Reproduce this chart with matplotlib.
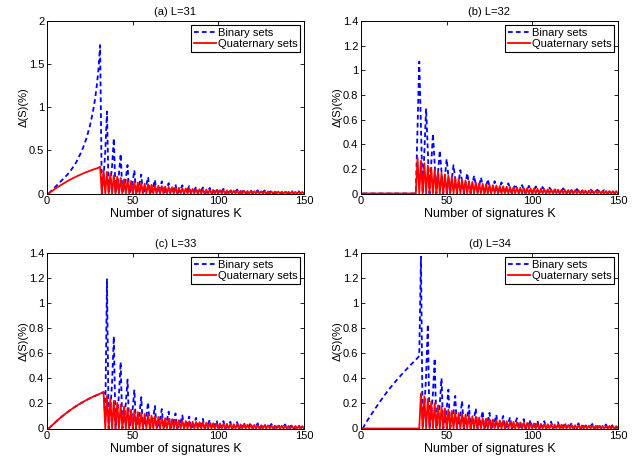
import numpy as np
import matplotlib
matplotlib.use("Agg")
import matplotlib.pyplot as plt

plt.rcParams['font.family'] = ['Liberation Sans', 'DejaVu Sans']
plt.rcParams['font.size'] = 8

K = np.arange(1, 151)
titles = ["(a) L=31", "(b) L=32", "(c) L=33", "(d) L=34"]
series_labels = ["Binary sets", "Quaternary sets"]
ylims = [2.0, 1.4, 1.4, 1.4]
yticks_a = [0, 0.5, 1, 1.5, 2]
yticks_bcd = [0, 0.2, 0.4, 0.6, 0.8, 1, 1.2, 1.4]
ytick_labels_a = ["0", "0.5", "1", "1.5", "2"]
ytick_labels_bcd = ["0", "0.2", "0.4", "0.6", "0.8", "1", "1.2", "1.4"]
xticks = [0, 50, 100, 150]

# ---- (a) L=31 ----
binary_a = [
    0, 0.02, 0.04, 0.06, 0.08, 0.10, 0.12, 0.14, 0.16, 0.18,
    0.20, 0.22, 0.25, 0.27, 0.30, 0.33, 0.36, 0.40, 0.44, 0.48,
    0.53, 0.58, 0.64, 0.71, 0.78, 0.87, 0.97, 1.09, 1.24, 1.43,
    1.72, 0, 0.19, 0.48, 0.95, 0, 0.13, 0.32, 0.64, 0,
    0.09, 0.23, 0.46, 0, 0.07, 0.17, 0.33, 0, 0.05, 0.14,
    0.27, 0, 0.04, 0.11, 0.22, 0, 0.04, 0.10, 0.19, 0,
    0.03, 0.08, 0.16, 0, 0.03, 0.07, 0.14, 0, 0.02, 0.06,
    0.12, 0, 0.02, 0.05, 0.105, 0, 0.02, 0.05, 0.095, 0,
    0.02, 0.04, 0.085, 0, 0.015, 0.04, 0.077, 0, 0.014, 0.035,
    0.07, 0, 0.013, 0.032, 0.064, 0, 0.012, 0.029, 0.058, 0,
    0.011, 0.027, 0.054, 0, 0.01, 0.025, 0.05, 0, 0.009, 0.023,
    0.046, 0, 0.009, 0.022, 0.043, 0, 0.008, 0.02, 0.04, 0,
    0.007, 0.019, 0.037, 0, 0.007, 0.018, 0.035, 0, 0.007, 0.017,
    0.033, 0, 0.006, 0.016, 0.031, 0, 0.006, 0.015, 0.029, 0,
    0.005, 0.014, 0.027, 0, 0.005, 0.013, 0.026, 0, 0.005, 0.012,
]
quaternary_a = [
    0, 0.015, 0.03, 0.044, 0.058, 0.071, 0.084, 0.097, 0.109, 0.121,
    0.133, 0.144, 0.155, 0.166, 0.176, 0.186, 0.196, 0.205, 0.214, 0.223,
    0.232, 0.24, 0.248, 0.256, 0.264, 0.271, 0.278, 0.285, 0.292, 0.298,
    0.31, 0, 0.27, 0, 0.25, 0, 0.23, 0, 0.21, 0,
    0.195, 0, 0.18, 0, 0.165, 0, 0.155, 0, 0.145, 0,
    0.135, 0, 0.127, 0, 0.12, 0, 0.113, 0, 0.107, 0,
    0.1, 0, 0.095, 0, 0.09, 0, 0.085, 0, 0.08, 0,
    0.076, 0, 0.072, 0, 0.068, 0, 0.065, 0, 0.062, 0,
    0.059, 0, 0.056, 0, 0.053, 0, 0.051, 0, 0.049, 0,
    0.047, 0, 0.045, 0, 0.043, 0, 0.041, 0, 0.04, 0,
    0.038, 0, 0.037, 0, 0.035, 0, 0.034, 0, 0.033, 0,
    0.032, 0, 0.031, 0, 0.03, 0, 0.029, 0, 0.028, 0,
    0.027, 0, 0.026, 0, 0.025, 0, 0.024, 0, 0.024, 0,
    0.023, 0, 0.022, 0, 0.022, 0, 0.021, 0, 0.02, 0,
    0.02, 0, 0.019, 0, 0.019, 0, 0.018, 0, 0.018, 0,
]

# ---- (b) L=32 ----
binary_b = [
    0, 0, 0, 0, 0, 0, 0, 0, 0, 0,
    0, 0, 0, 0, 0, 0, 0, 0, 0, 0,
    0, 0, 0, 0, 0, 0, 0, 0, 0, 0,
    0, 0, 0.53, 1.07, 0.53, 0, 0.35, 0.69, 0.35, 0,
    0.24, 0.485, 0.24, 0, 0.175, 0.35, 0.175, 0, 0.14, 0.28,
    0.14, 0, 0.115, 0.23, 0.115, 0, 0.095, 0.19, 0.095, 0,
    0.083, 0.165, 0.083, 0, 0.073, 0.145, 0.073, 0, 0.065, 0.13,
    0.065, 0, 0.058, 0.115, 0.058, 0, 0.05, 0.1, 0.05, 0,
    0.045, 0.09, 0.045, 0, 0.041, 0.082, 0.041, 0, 0.038, 0.075,
    0.038, 0, 0.034, 0.068, 0.034, 0, 0.031, 0.062, 0.031, 0,
    0.029, 0.057, 0.029, 0, 0.026, 0.052, 0.026, 0, 0.024, 0.048,
    0.024, 0, 0.023, 0.045, 0.023, 0, 0.021, 0.042, 0.021, 0,
    0.02, 0.039, 0.02, 0, 0.018, 0.036, 0.018, 0, 0.017, 0.034,
    0.017, 0, 0.016, 0.032, 0.016, 0, 0.015, 0.03, 0.015, 0,
    0.014, 0.028, 0.014, 0, 0.013, 0.026, 0.013, 0, 0.013, 0.025,
]
quaternary_b = [
    0, 0, 0, 0, 0, 0, 0, 0, 0, 0,
    0, 0, 0, 0, 0, 0, 0, 0, 0, 0,
    0, 0, 0, 0, 0, 0, 0, 0, 0, 0,
    0, 0, 0.29, 0, 0.265, 0, 0.245, 0, 0.225, 0,
    0.21, 0, 0.195, 0, 0.18, 0, 0.167, 0, 0.155, 0,
    0.145, 0, 0.136, 0, 0.128, 0, 0.12, 0, 0.113, 0,
    0.106, 0, 0.1, 0, 0.094, 0, 0.089, 0, 0.084, 0,
    0.079, 0, 0.075, 0, 0.071, 0, 0.067, 0, 0.064, 0,
    0.061, 0, 0.058, 0, 0.055, 0, 0.052, 0, 0.05, 0,
    0.048, 0, 0.046, 0, 0.044, 0, 0.042, 0, 0.04, 0,
    0.04, 0, 0.038, 0, 0.037, 0, 0.035, 0, 0.034, 0,
    0.033, 0, 0.032, 0, 0.031, 0, 0.03, 0, 0.029, 0,
    0.028, 0, 0.027, 0, 0.026, 0, 0.025, 0, 0.025, 0,
    0.024, 0, 0.023, 0, 0.023, 0, 0.022, 0, 0.021, 0,
    0.021, 0, 0.02, 0, 0.02, 0, 0.019, 0, 0.019, 0,
]

# ---- (c) L=33 ----
binary_c = [
    0, 0.013, 0.026, 0.039, 0.052, 0.064, 0.076, 0.088, 0.099, 0.11,
    0.121, 0.131, 0.141, 0.151, 0.161, 0.17, 0.179, 0.188, 0.196, 0.204,
    0.212, 0.22, 0.227, 0.234, 0.241, 0.248, 0.254, 0.26, 0.266, 0.272,
    0.278, 0.284, 0.29, 0.1, 1.19, 0, 0.15, 0.37, 0.735, 0,
    0.11, 0.27, 0.53, 0, 0.08, 0.2, 0.39, 0, 0.06, 0.155,
    0.31, 0, 0.05, 0.125, 0.25, 0, 0.04, 0.105, 0.21, 0,
    0.036, 0.09, 0.18, 0, 0.031, 0.078, 0.155, 0, 0.027, 0.068,
    0.135, 0, 0.024, 0.06, 0.12, 0, 0.021, 0.053, 0.105, 0,
    0.019, 0.048, 0.095, 0, 0.017, 0.043, 0.085, 0, 0.015, 0.039,
    0.077, 0, 0.014, 0.035, 0.07, 0, 0.013, 0.032, 0.064, 0,
    0.012, 0.03, 0.059, 0, 0.011, 0.027, 0.054, 0, 0.01, 0.025,
    0.05, 0, 0.009, 0.024, 0.047, 0, 0.009, 0.022, 0.044, 0,
    0.008, 0.021, 0.041, 0, 0.008, 0.019, 0.038, 0, 0.007, 0.018,
    0.036, 0, 0.007, 0.017, 0.034, 0, 0.006, 0.016, 0.032, 0,
    0.006, 0.015, 0.03, 0, 0.006, 0.014, 0.028, 0, 0.005, 0.013,
]
quaternary_c = [
    0, 0.013, 0.026, 0.039, 0.052, 0.064, 0.076, 0.088, 0.099, 0.11,
    0.121, 0.131, 0.141, 0.151, 0.161, 0.17, 0.179, 0.188, 0.196, 0.204,
    0.212, 0.22, 0.227, 0.234, 0.241, 0.248, 0.254, 0.26, 0.266, 0.272,
    0.278, 0.284, 0.29, 0, 0.26, 0, 0.24, 0, 0.22, 0,
    0.205, 0, 0.19, 0, 0.175, 0, 0.162, 0, 0.15, 0,
    0.14, 0, 0.131, 0, 0.123, 0, 0.116, 0, 0.109, 0,
    0.103, 0, 0.097, 0, 0.092, 0, 0.087, 0, 0.082, 0,
    0.078, 0, 0.074, 0, 0.07, 0, 0.066, 0, 0.063, 0,
    0.06, 0, 0.057, 0, 0.054, 0, 0.052, 0, 0.05, 0,
    0.048, 0, 0.046, 0, 0.044, 0, 0.042, 0, 0.04, 0,
    0.04, 0, 0.038, 0, 0.037, 0, 0.035, 0, 0.034, 0,
    0.033, 0, 0.032, 0, 0.031, 0, 0.03, 0, 0.029, 0,
    0.028, 0, 0.027, 0, 0.026, 0, 0.025, 0, 0.025, 0,
    0.024, 0, 0.023, 0, 0.023, 0, 0.022, 0, 0.021, 0,
    0.021, 0, 0.02, 0, 0.02, 0, 0.019, 0, 0.019, 0,
]

# ---- (d) L=34 ----
binary_d = [
    0, 0.025, 0.048, 0.07, 0.091, 0.112, 0.133, 0.153, 0.173, 0.193,
    0.213, 0.232, 0.251, 0.27, 0.288, 0.306, 0.323, 0.34, 0.357, 0.373,
    0.389, 0.405, 0.42, 0.435, 0.45, 0.465, 0.479, 0.493, 0.507, 0.521,
    0.535, 0.549, 0.563, 0.58, 1.37, 0, 0.17, 0.42, 0.83, 0,
    0.11, 0.28, 0.56, 0, 0.08, 0.2, 0.4, 0, 0.06, 0.155,
    0.31, 0, 0.05, 0.13, 0.26, 0, 0.045, 0.11, 0.22, 0,
    0.037, 0.093, 0.185, 0, 0.032, 0.08, 0.16, 0, 0.028, 0.07,
    0.14, 0, 0.025, 0.063, 0.125, 0, 0.022, 0.055, 0.11, 0,
    0.02, 0.05, 0.1, 0, 0.018, 0.045, 0.09, 0, 0.016, 0.041,
    0.082, 0, 0.015, 0.038, 0.075, 0, 0.013, 0.034, 0.068, 0,
    0.012, 0.032, 0.063, 0, 0.012, 0.029, 0.058, 0, 0.011, 0.027,
    0.054, 0, 0.01, 0.025, 0.05, 0, 0.009, 0.024, 0.047, 0,
    0.009, 0.022, 0.044, 0, 0.008, 0.021, 0.041, 0, 0.008, 0.019,
    0.038, 0, 0.007, 0.018, 0.036, 0, 0.007, 0.017, 0.034, 0,
    0.006, 0.016, 0.032, 0, 0.006, 0.015, 0.03, 0, 0.006, 0.014,
]
quaternary_d = [
    0, 0, 0, 0, 0, 0, 0, 0, 0, 0,
    0, 0, 0, 0, 0, 0, 0, 0, 0, 0,
    0, 0, 0, 0, 0, 0, 0, 0, 0, 0,
    0, 0, 0, 0, 0.28, 0, 0.255, 0, 0.235, 0,
    0.215, 0, 0.2, 0, 0.185, 0, 0.172, 0, 0.16, 0,
    0.15, 0, 0.14, 0, 0.132, 0, 0.124, 0, 0.117, 0,
    0.11, 0, 0.104, 0, 0.098, 0, 0.093, 0, 0.088, 0,
    0.083, 0, 0.079, 0, 0.075, 0, 0.071, 0, 0.067, 0,
    0.064, 0, 0.061, 0, 0.058, 0, 0.055, 0, 0.053, 0,
    0.05, 0, 0.048, 0, 0.046, 0, 0.044, 0, 0.042, 0,
    0.04, 0, 0.038, 0, 0.037, 0, 0.035, 0, 0.034, 0,
    0.033, 0, 0.032, 0, 0.031, 0, 0.03, 0, 0.029, 0,
    0.028, 0, 0.027, 0, 0.026, 0, 0.025, 0, 0.025, 0,
    0.024, 0, 0.023, 0, 0.023, 0, 0.022, 0, 0.021, 0,
    0.021, 0, 0.02, 0, 0.02, 0, 0.019, 0, 0.019, 0,
]

binary_all = [binary_a, binary_b, binary_c, binary_d]
quaternary_all = [quaternary_a, quaternary_b, quaternary_c, quaternary_d]

W, H = 644, 459
fig = plt.figure(figsize=(W / 100, H / 100), dpi=100)

# axes boxes in pixels: (left, top, right, bottom)
boxes = [(47, 21, 304, 193.5), (361, 21, 618, 193.5),
         (47, 253, 304, 428.5), (361, 253, 618, 428.5)]

for i, (l, t, r, b) in enumerate(boxes):
    ax = fig.add_axes([l / W, 1 - b / H, (r - l) / W, (b - t) / H])
    ax.plot(K, binary_all[i], color=(0, 0, 1), lw=1.3, ls=(0, (2.6, 1.8)),
            label=series_labels[0])
    ax.plot(K, quaternary_all[i], color=(1, 0, 0), lw=1.3,
            label=series_labels[1])
    ax.set_xlim(0, 150)
    ax.set_ylim(0, ylims[i])
    ax.set_xticks(xticks)
    ax.set_xticklabels([str(x) for x in xticks])
    if i == 0:
        ax.set_yticks(yticks_a)
        ax.set_yticklabels(ytick_labels_a)
    else:
        ax.set_yticks(yticks_bcd)
        ax.set_yticklabels(ytick_labels_bcd)
    ax.tick_params(direction='in', length=3, width=0.6, top=True, right=True,
                   labelsize=8, pad=2)
    for s in ax.spines.values():
        s.set_linewidth(0.7)
    ax.set_title(titles[i], fontsize=8, pad=4)
    ax.set_xlabel("Number of signatures K", fontsize=9, labelpad=1)
    ax.set_ylabel("Δ(S)(%)", fontsize=8, labelpad=0)
    leg = ax.legend(loc='upper right', fontsize=8, frameon=True, fancybox=False,
                    edgecolor='black', framealpha=1, borderpad=0.25,
                    labelspacing=0.15, handlelength=2.0, handletextpad=0.15,
                    borderaxespad=0.35)
    leg.get_frame().set_linewidth(0.8)

fig.savefig("out.png", dpi=100)
